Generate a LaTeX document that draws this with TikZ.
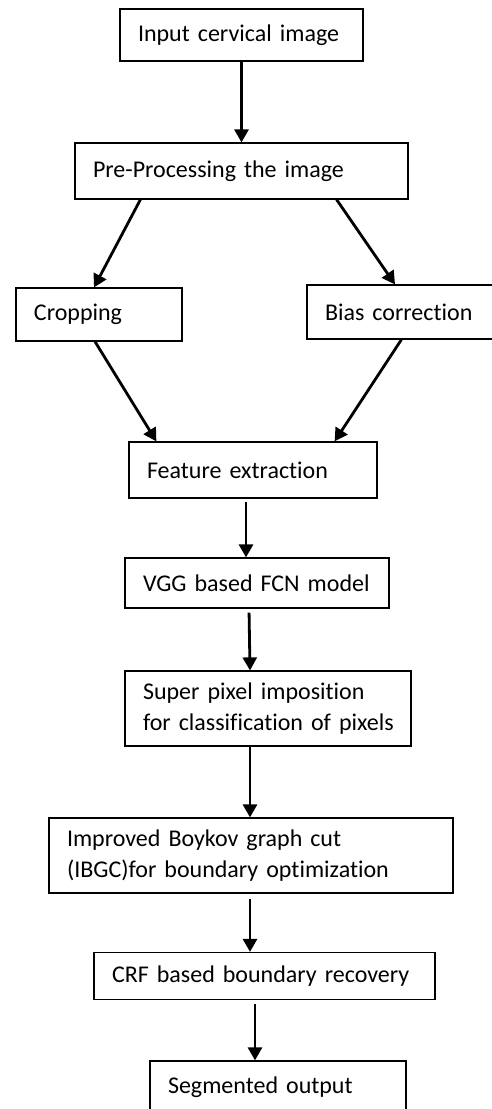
\documentclass[tikz,border=0pt]{standalone}
\usepackage{fontspec}
\setmainfont{Carlito}[Ligatures=NoCommon]
\usetikzlibrary{arrows.meta, positioning}
\tikzset{
    etapa/.style={draw, line width=1.2pt, inner xsep=18pt, inner ysep=0pt, align=left,
        font=\fontsize{24}{31}\selectfont},
    flecha/.style={line width=2.8pt, -{Triangle[length=13pt,width=14pt]}},
}

\begin{document}
\begin{tikzpicture}[x=1pt, y=-1pt]
\useasboundingbox (0,0) rectangle (491,1109);
% entrada
\node[etapa, text width=207pt, minimum height=52pt] (entrada) at (241.5,35) {Input cervical image};
\node[etapa, text width=297pt, minimum height=56pt] (preproc) at (241.5,171) {Pre-Processing the image};
% dos ramas
\node[etapa, text width=130pt, minimum height=53pt] (recorte) at (99,314.5) {Cropping};
\node[etapa, text width=157pt, minimum height=54pt] (sesgo) at (403.5,312) {Bias correction};
% extraccion y modelo
\node[etapa, text width=212pt, minimum height=56pt] (rasgos) at (253,470) {Feature extraction};
\node[etapa, text width=228pt, minimum height=50pt] (vgg) at (257,583) {VGG based FCN model};
\node[etapa, text width=250pt, minimum height=75pt] (superpix) at (268,708.5) {Super pixel imposition\\\mbox{for classification of pixels}};
\node[etapa, text width=368pt, minimum height=75pt] (ibgc) at (251,855.5) {Improved Boykov graph cut\\(IBGC)for boundary optimization};
\node[etapa, text width=305pt, minimum height=47pt] (crf) at (264.5,976) {CRF based boundary recovery};
\node[etapa, text width=220pt, minimum height=52pt] (salida) at (278,1087) {Segmented output};
% flechas
\draw[flecha] (entrada.south) -- (preproc.north);
\draw[flecha] ([xshift=66pt]preproc.south west) -- ([xshift=-5pt]recorte.north);
\draw[flecha] ([xshift=-72pt]preproc.south east) -- ([xshift=-8.5pt]sesgo.north);
\draw[flecha] ([xshift=-4pt]recorte.south) -- ([xshift=28pt]rasgos.north west);
\draw[flecha] ([xshift=95pt]sesgo.south west) -- ([xshift=-43pt]rasgos.north east);
\draw[flecha, shorten <=3pt] ([xshift=-7pt]rasgos.south) -- ([xshift=-11pt]vgg.north);
\draw[flecha, shorten <=4pt] ([xshift=-8pt]vgg.south) -- ([xshift=-18pt]superpix.north);
\draw[flecha] ([xshift=-18pt]superpix.south) -- ([xshift=-1pt]ibgc.north);
\draw[flecha, shorten <=5pt] ([xshift=-1pt]ibgc.south) -- ([xshift=-14.5pt]crf.north);
\draw[flecha, shorten <=4pt] ([xshift=-9.5pt]crf.south) -- ([xshift=-23pt]salida.north);
\end{tikzpicture}
\end{document}
